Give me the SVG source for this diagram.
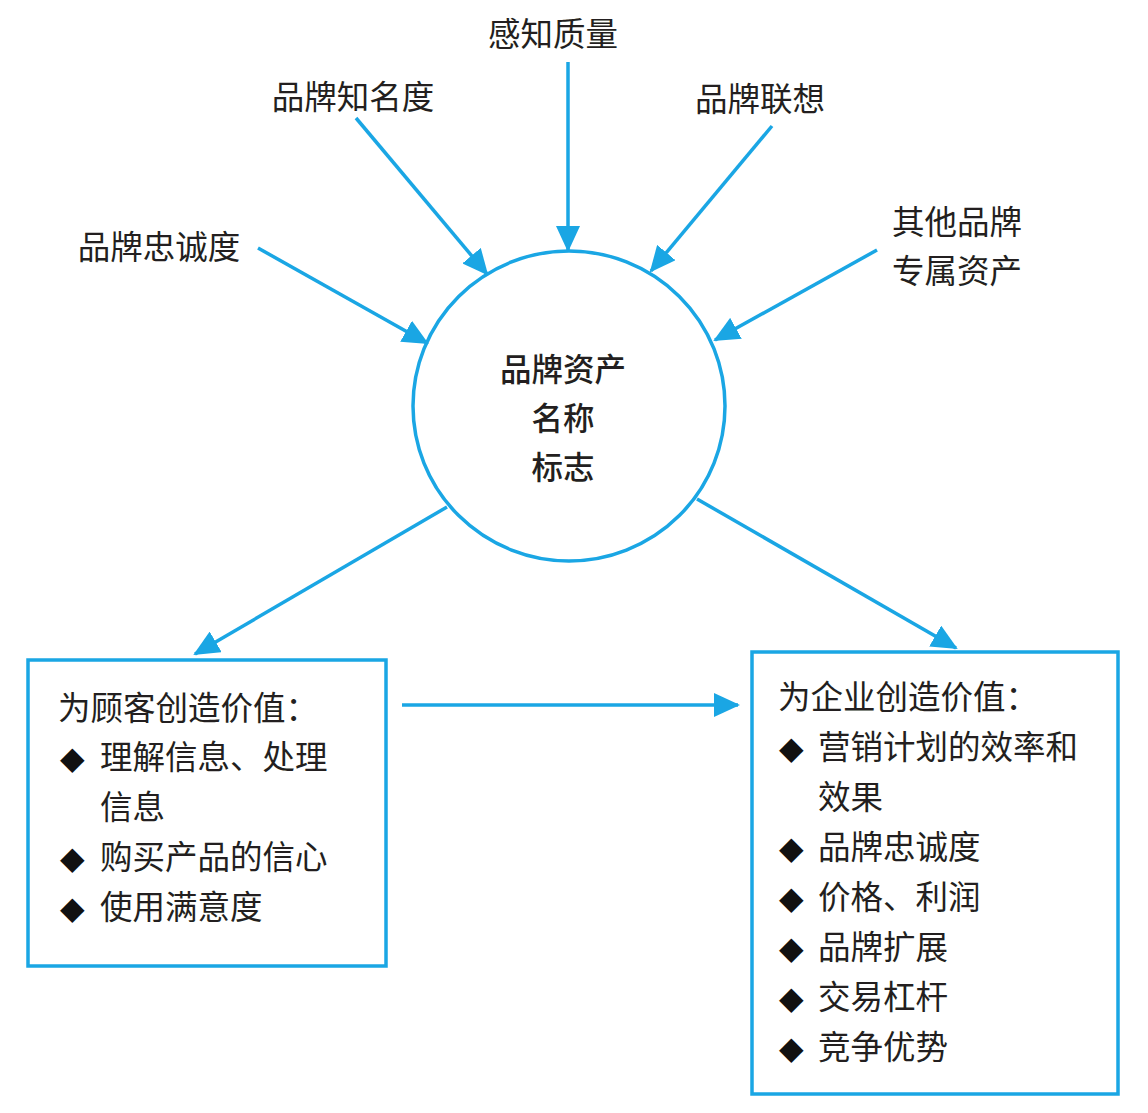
<svg xmlns="http://www.w3.org/2000/svg" width="1148" height="1113" viewBox="0 0 1148 1113">
<style>
.t{font-family:"Noto Sans CJK SC","Noto Sans",sans-serif;font-size:32.5px;fill:#231f20;}
.c{font-family:"Noto Sans CJK SC","Noto Sans",sans-serif;font-size:31.5px;fill:#231f20;font-weight:500;}
.d{font-family:"DejaVu Sans",sans-serif;font-size:32px;fill:#111;}
.ln{stroke:#1aa6e4;stroke-width:3.5;fill:none;marker-end:url(#ah);}
.bx{stroke:#1aa6e4;stroke-width:3.5;fill:#fff;}
</style>
<defs>
<marker id="ah" markerUnits="userSpaceOnUse" markerWidth="26" markerHeight="24" viewBox="0 0 26 24" refX="24" refY="12" orient="auto">
<path d="M0,0 L26,12 L0,24 Z" fill="#1aa6e4"/>
</marker>
</defs>
<rect width="1148" height="1113" fill="#fff"/>
<g id="connectors">
<line class="ln" x1="356" y1="118" x2="487" y2="274"/>
<line class="ln" x1="568" y1="62" x2="568" y2="250"/>
<line class="ln" x1="772" y1="126" x2="651" y2="271"/>
<line class="ln" x1="258" y1="248" x2="427" y2="343"/>
<line class="ln" x1="877" y1="250" x2="715" y2="340"/>
<line class="ln" x1="447" y1="507" x2="195" y2="654"/>
<line class="ln" x1="697" y1="499" x2="956" y2="648"/>
<line class="ln" x1="402" y1="705" x2="738" y2="705"/>
</g>
<g id="center">
<ellipse cx="569" cy="406" rx="156" ry="155" fill="none" stroke="#1aa6e4" stroke-width="3.5"/>
<text class="c" x="563" y="381" text-anchor="middle">品牌资产</text>
<text class="c" x="563" y="430" text-anchor="middle">名称</text>
<text class="c" x="563" y="479" text-anchor="middle">标志</text>
</g>
<g id="n-perceived"><text class="t" x="553" y="46" text-anchor="middle">感知质量</text></g>
<g id="n-awareness"><text class="t" x="353" y="109" text-anchor="middle">品牌知名度</text></g>
<g id="n-association"><text class="t" x="760" y="111" text-anchor="middle">品牌联想</text></g>
<g id="n-loyalty"><text class="t" x="159" y="259" text-anchor="middle">品牌忠诚度</text></g>
<g id="n-other">
<text class="t" x="957" y="234" text-anchor="middle">其他品牌</text>
<text class="t" x="957" y="283" text-anchor="middle">专属资产</text>
</g>
<g id="box-customer">
<rect class="bx" x="28" y="660" width="358" height="306"/>
<text class="t" x="58" y="720">为顾客创造价值：</text>
<text class="d" x="60" y="769">◆</text><text class="t" x="100" y="769">理解信息、处理</text>
<text class="t" x="100" y="819">信息</text>
<text class="d" x="60" y="869">◆</text><text class="t" x="100" y="869">购买产品的信心</text>
<text class="d" x="60" y="919">◆</text><text class="t" x="100" y="919">使用满意度</text>
</g>
<g id="box-company">
<rect class="bx" x="752" y="652" width="366" height="442"/>
<text class="t" x="778" y="709">为企业创造价值：</text>
<text class="d" x="779" y="759">◆</text><text class="t" x="818" y="759">营销计划的效率和</text>
<text class="t" x="818" y="809">效果</text>
<text class="d" x="779" y="859">◆</text><text class="t" x="818" y="859">品牌忠诚度</text>
<text class="d" x="779" y="909">◆</text><text class="t" x="818" y="909">价格、利润</text>
<text class="d" x="779" y="959">◆</text><text class="t" x="818" y="959">品牌扩展</text>
<text class="d" x="779" y="1009">◆</text><text class="t" x="818" y="1009">交易杠杆</text>
<text class="d" x="779" y="1059">◆</text><text class="t" x="818" y="1059">竞争优势</text>
</g>
</svg>
